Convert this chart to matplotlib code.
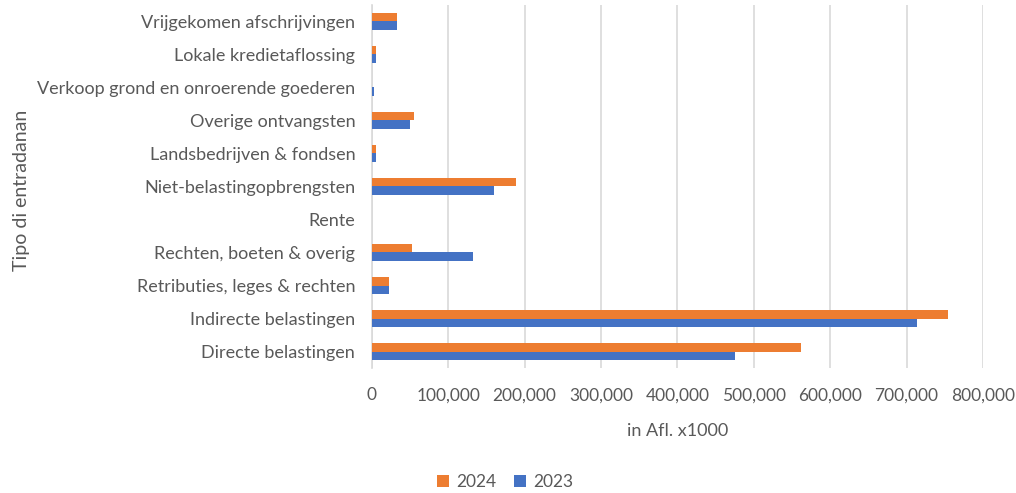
import numpy as np
import matplotlib
matplotlib.use('Agg')
import matplotlib.pyplot as plt
from matplotlib.ticker import FuncFormatter

# categorieen, van onder naar boven
categorieen = [
    'Directe belastingen',
    'Indirecte belastingen',
    'Retributies, leges & rechten',
    'Rechten, boeten & overig',
    'Rente',
    'Niet-belastingopbrengsten',
    'Landsbedrijven & fondsen',
    'Overige ontvangsten',
    'Verkoop grond en onroerende goederen',
    'Lokale kredietaflossing',
    'Vrijgekomen afschrijvingen',
]
waarden_2024 = [562000, 754000, 22500, 52000, 0, 189000, 5000, 55000, 0, 6000, 33000]
waarden_2023 = [475000, 714000, 22500, 132600, 0, 160500, 5000, 49500, 2500, 6000, 33000]
x_ticks = [0, 100000, 200000, 300000, 400000, 500000, 600000, 700000, 800000]

oranje = '#ED7D31'
blauw = '#4472C4'
tekst = '#595959'

plt.rcParams['font.family'] = ['Lato', 'DejaVu Sans']

fig = plt.figure(figsize=(10.16, 4.93), dpi=100)
ax = fig.add_axes([0.366, 0.2535, 0.6015, 0.7365])

y = np.arange(len(categorieen))
h = 0.25
ax.barh(y + h / 2, waarden_2024, height=h, color=oranje, label='2024', zorder=3)
ax.barh(y - h / 2, waarden_2023, height=h, color=blauw, label='2023', zorder=3)

ax.set_ylim(-0.5, len(categorieen) - 0.5)
ax.set_xlim(0, 800000)
ax.set_yticks(y)
ax.set_yticklabels(categorieen, fontsize=13, color=tekst)
ax.set_xticks(x_ticks)
ax.xaxis.set_major_formatter(FuncFormatter(lambda v, p: '{:,.0f}'.format(v)))
ax.tick_params(axis='x', labelsize=12.5, labelcolor=tekst, length=0, pad=14)
ax.tick_params(axis='y', length=0, pad=12)

ax.grid(axis='x', color='#D9D9D9', linewidth=1.2, zorder=0)
for s in ['top', 'right', 'bottom']:
    ax.spines[s].set_visible(False)
ax.spines['left'].set_color('#D9D9D9')
ax.spines['left'].set_linewidth(1.2)

ax.set_xlabel('in Afl. x1000', fontsize=13, color=tekst, labelpad=14)
ax.set_ylabel('Tipo di entradanan', fontsize=14, color=tekst)
ax.yaxis.set_label_coords(-0.56, 0.49)

leg = fig.legend(loc='lower center', bbox_to_anchor=(0.497, -0.025), ncol=2, frameon=False,
                 fontsize=12.5, handlelength=0.7, handleheight=0.7, columnspacing=1.0,
                 handletextpad=0.4)
for t in leg.get_texts():
    t.set_color(tekst)

fig.savefig('out.png', dpi=100)
